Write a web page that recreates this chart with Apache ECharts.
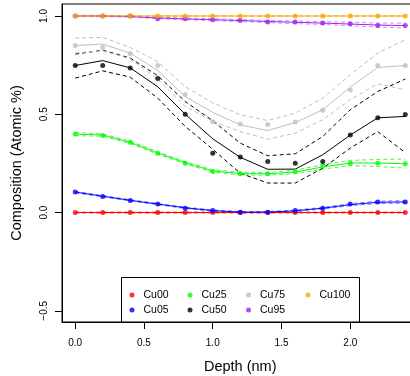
<!DOCTYPE html>
<html><head><meta charset="utf-8">
<script src="https://cdn.jsdelivr.net/npm/echarts@6/dist/echarts.min.js"></script>
<style>html,body{margin:0;padding:0;background:#fff}#c{width:410px;height:376px}</style>
</head><body><div id="c"></div>
<script>
var depth = [0,0.2,0.4,0.6,0.8,1.0,1.2,1.4,1.6,1.8,2.0,2.2,2.4];
var xTicks = [0,0.5,1,1.5,2];
var yTicks = [-0.5,0,0.5,1];
var names = ['Cu00','Cu05','Cu25','Cu50','Cu75','Cu95','Cu100'];

var cu00Pts = [0,0,0,0,0,0,0,0,0,0,0,0,0];
var cu00Fit = [0,0,0,0,0,0,0,0,0,0,0,0,0];
var cu00Hi  = [0.003,0.003,0.003,0.003,0.003,0.003,0.003,0.003,0.003,0.003,0.003,0.003,0.003];
var cu00Lo  = [-0.003,-0.003,-0.003,-0.003,-0.003,-0.003,-0.003,-0.003,-0.003,-0.003,-0.003,-0.003,-0.003];

var cu05Pts = [0.104,0.081,0.061,0.043,0.022,0.010,0.002,0.002,0.010,0.022,0.043,0.053,0.053];
var cu05Fit = [0.104,0.083,0.062,0.043,0.024,0.010,0.002,0.002,0.009,0.022,0.040,0.052,0.054];
var cu05Hi  = [0.108,0.086,0.065,0.046,0.027,0.013,0.005,0.005,0.012,0.026,0.045,0.058,0.060];
var cu05Lo  = [0.100,0.080,0.059,0.040,0.021,0.007,-0.001,-0.001,0.006,0.018,0.035,0.046,0.048];

var cu25Pts = [0.399,0.392,0.358,0.302,0.251,0.209,0.197,0.197,0.209,0.239,0.251,0.251,0.248];
var cu25Fit = [0.399,0.394,0.357,0.303,0.253,0.212,0.198,0.197,0.206,0.232,0.252,0.252,0.248];
var cu25Hi  = [0.407,0.400,0.363,0.309,0.259,0.218,0.205,0.204,0.215,0.243,0.265,0.270,0.272];
var cu25Lo  = [0.391,0.388,0.351,0.297,0.247,0.206,0.191,0.190,0.197,0.221,0.239,0.234,0.226];

var cu50Pts = [0.748,0.748,0.736,0.682,0.500,0.302,0.282,0.260,0.251,0.260,0.394,0.482,0.499];
var cu50Fit = [0.748,0.773,0.736,0.640,0.500,0.375,0.281,0.220,0.221,0.294,0.394,0.482,0.489];
var cu50Hi  = [0.806,0.826,0.786,0.696,0.565,0.467,0.353,0.289,0.299,0.387,0.523,0.616,0.679];
var cu50Lo  = [0.684,0.721,0.689,0.582,0.438,0.322,0.200,0.150,0.150,0.226,0.328,0.412,0.305];

var cu75Pts = [0.850,0.840,0.809,0.748,0.600,0.462,0.450,0.448,0.460,0.521,0.623,0.748,0.748];
var cu75Fit = [0.850,0.857,0.811,0.723,0.590,0.510,0.446,0.417,0.458,0.523,0.638,0.738,0.748];
var cu75Hi  = [0.888,0.891,0.840,0.768,0.640,0.558,0.497,0.468,0.506,0.582,0.701,0.811,0.879];
var cu75Lo  = [0.812,0.823,0.782,0.678,0.540,0.465,0.412,0.373,0.404,0.472,0.574,0.655,0.624];

var cu95Pts = [1.000,1.000,1.000,0.986,0.986,0.981,0.977,0.970,0.969,0.964,0.960,0.952,0.952];
var cu95Fit = [1.000,1.000,0.997,0.990,0.985,0.981,0.977,0.972,0.968,0.964,0.959,0.954,0.951];
var cu95Hi  = [1.003,1.003,1.000,0.994,0.989,0.986,0.982,0.978,0.975,0.971,0.968,0.964,0.963];
var cu95Lo  = [0.997,0.997,0.994,0.986,0.981,0.976,0.972,0.966,0.961,0.957,0.950,0.944,0.939];

var cu100Pts = [1,1,1,1,1,1,1,1,1,1,1,1,1];
var cu100Fit = [1,1,1,1,1,1,1,1,1,1,1,1,1];
var cu100Hi  = [1.002,1.002,1.002,1.002,1.002,1.002,1.002,1.002,1.002,1.002,1.002,1.002,1.002];
var cu100Lo  = [0.998,0.998,0.998,0.998,0.998,0.998,0.998,0.998,0.998,0.998,0.998,0.998,0.998];

var colors = {Cu00:'#FF0000',Cu05:'#0000FF',Cu25:'#00FF00',Cu50:'#000000',Cu75:'#BEBEBE',Cu95:'#A020F0',Cu100:'#FFA500'};
var bandColors = {Cu00:'rgba(255,0,0,0.55)',Cu05:'rgba(0,0,255,0.55)',Cu25:'rgba(0,230,0,0.65)',Cu50:'#000000',Cu75:'#BEBEBE',Cu95:'rgba(160,32,240,0.5)',Cu100:'rgba(255,165,0,0.55)'};
var sets = {
  Cu00:[cu00Pts,cu00Fit,cu00Hi,cu00Lo],
  Cu05:[cu05Pts,cu05Fit,cu05Hi,cu05Lo],
  Cu25:[cu25Pts,cu25Fit,cu25Hi,cu25Lo],
  Cu50:[cu50Pts,cu50Fit,cu50Hi,cu50Lo],
  Cu75:[cu75Pts,cu75Fit,cu75Hi,cu75Lo],
  Cu95:[cu95Pts,cu95Fit,cu95Hi,cu95Lo],
  Cu100:[cu100Pts,cu100Fit,cu100Hi,cu100Lo]
};
function pairs(arr){ return depth.map(function(d,i){ return [d, arr[i]]; }); }

var series = [];
names.forEach(function(n){
  var s = sets[n];
  [2,3].forEach(function(k){
    series.push({name:n+(k===2?' hi':' lo'), type:'line', data:pairs(s[k]), showSymbol:false, silent:true,
      lineStyle:{color:bandColors[n], width:1, type:[4,3]}, z:2});
  });
  series.push({name:n+' fit', type:'line', data:pairs(s[1]), showSymbol:false, silent:true,
    lineStyle:{color:colors[n], width:1}, z:3});
  series.push({name:n, type:'scatter', data:pairs(s[0]), symbol:'circle', symbolSize:5,
    itemStyle:{color:colors[n]}, z:4});
});

var font = "'Liberation Sans', Arial, Helvetica, sans-serif";
function leg(items, left){
  return {orient:'vertical', left:left, top:284, itemWidth:13, itemHeight:5, itemGap:3, icon:'circle',
    data:items, selectedMode:false, z:10,
    textStyle:{fontFamily:font, fontSize:10.5, color:'#000', lineHeight:12}};
}
var fmt = function(v){ var t = (Math.round(v*10)/10).toFixed(1); return v < 0 ? '\u2212' + t.slice(1) : t; };

var chart = echarts.init(document.getElementById('c'), null, {renderer:'canvas'});
chart.setOption({
  animation:false,
  backgroundColor:'#fff',
  grid:{left:62, top:4, width:356.5, height:318, outerBoundsMode:'none', containLabel:false,
    show:true, borderColor:'#000', borderWidth:1, backgroundColor:'transparent'},
  xAxis:{type:'value', min:-0.096, max:2.496,
    name:'Depth (nm)', nameLocation:'middle', nameGap:37,
    nameTextStyle:{fontFamily:font, fontSize:14.5, color:'#000'},
    axisLine:{show:true, onZero:false, lineStyle:{color:'#000', width:1}},
    axisTick:{show:true, inside:false, length:7, customValues:xTicks, lineStyle:{color:'#000'}},
    axisLabel:{customValues:xTicks, formatter:fmt, margin:16, fontFamily:font, fontSize:10, color:'#000'},
    splitLine:{show:false}},
  yAxis:{type:'value', min:-0.557, max:1.061,
    name:'Composition (Atomic %)', nameLocation:'middle', nameGap:38,
    nameTextStyle:{fontFamily:font, fontSize:14.5, color:'#000'},
    axisLine:{show:true, onZero:false, lineStyle:{color:'#000', width:1}},
    axisTick:{show:true, inside:false, length:7, customValues:yTicks, lineStyle:{color:'#000'}},
    axisLabel:{customValues:yTicks, formatter:fmt, rotate:90, margin:13, fontFamily:font, fontSize:10, color:'#000'},
    splitLine:{show:false}},
  legend:[leg(['Cu00','Cu05'],124.5), leg(['Cu25','Cu50'],182.5), leg(['Cu75','Cu95'],241), leg(['Cu100'],300.5)],
  graphic:[{type:'rect', shape:{x:121.5, y:277.5, width:238, height:44.5}, style:{fill:'#fff', stroke:'#000', lineWidth:1}, z:1}],
  series:series
});
</script>
</body></html>
